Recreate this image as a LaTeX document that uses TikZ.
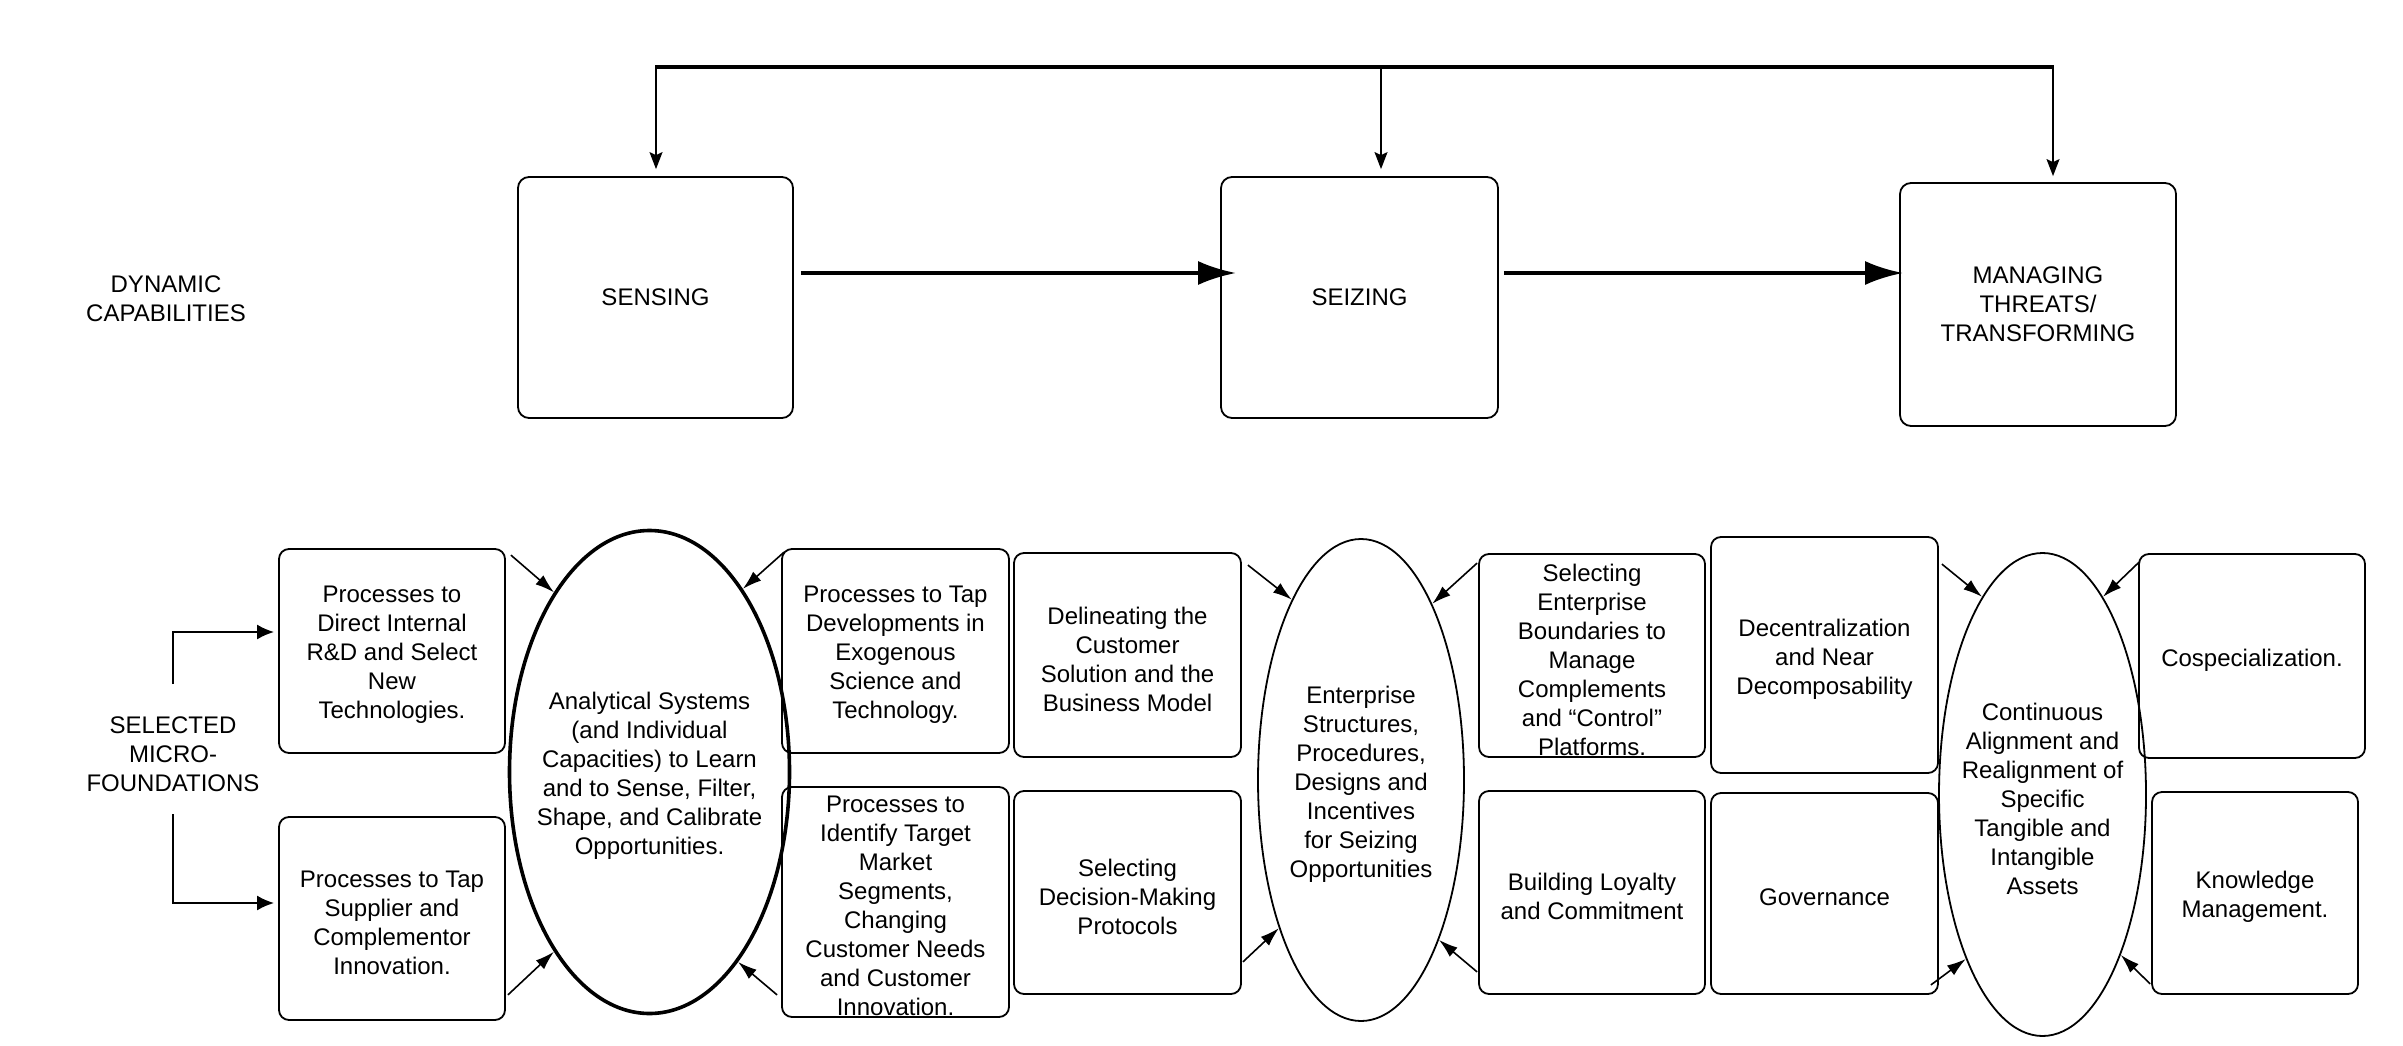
\documentclass[tikz,border=0pt]{standalone}
\usepackage{fontspec}
\setmainfont{Liberation Sans}
\usetikzlibrary{arrows.meta,shapes.geometric,calc}
\begin{document}
\begin{tikzpicture}[x=1pt,y=1pt,
  every node/.style={font=\fontsize{24}{29}\selectfont},
  txt/.style={align=center, inner sep=0pt},
  topbox/.style={draw, line width=1.8pt, rounded corners=11pt, align=center, inner sep=0pt},
  lbl/.style={align=center, inner sep=0pt, yshift=-4pt},
  box/.style={draw, line width=1.8pt, rounded corners=10pt, inner sep=0pt,
    label={[lbl]center:{#1}}},
  ell/.style={draw, ellipse, line width=1.8pt, inner sep=0pt,
    label={[lbl]center:{#1}}},
  bigarrow/.style={line width=4pt, -{Latex[length=38pt,width=24pt]}},
  toparrow/.style={line width=1.5pt, -{Stealth[length=17pt,width=13pt,inset=3pt]}},
  brk/.style={line width=2pt, -{Latex[length=17pt,width=15pt]}},
  small/.style={line width=1.6pt, -{Latex[length=19pt,width=12pt]}}
]
\useasboundingbox (0,0) rectangle (2403,-1046);

% ---- top row ----
\node[txt] (dyn) at (166,-298.5) {DYNAMIC\\CAPABILITIES};
\node[topbox, minimum width=275pt, minimum height=241pt] (sensing) at (655.5,-297.5) {SENSING};
\node[topbox, minimum width=277pt, minimum height=241pt] (seizing) at (1359.5,-297.5) {SEIZING};
\node[topbox, minimum width=276pt, minimum height=243pt] (managing) at (2038,-304.5) {MANAGING\\THREATS/\\TRANSFORMING};

\coordinate (t1) at (656,-67);
\coordinate (t2) at (1381,-67);
\coordinate (t3) at (2053,-67);
\draw[line width=3.5pt] ([xshift=-0.75pt]t1) -- ([xshift=0.75pt]t3);
\draw[toparrow] (t1) -- ($(t1 |- sensing.north)+(0,7)$);
\draw[toparrow] (t2) -- ($(t2 |- seizing.north)+(0,7)$);
\draw[toparrow] (t3) -- ($(t3 |- managing.north)+(0,6)$);

\draw[bigarrow] ([xshift=7pt,yshift=24.5pt]sensing.east) -- ([xshift=16pt,yshift=24.5pt]seizing.west);
\draw[bigarrow] ([xshift=5pt,yshift=24.5pt]seizing.east) -- ([xshift=4pt,yshift=31.5pt]managing.west);

% ---- bottom row ----
\node[txt] (selmf) at (173,-754) {SELECTED\\MICRO-\\FOUNDATIONS};

\node[box={Processes to\\Direct Internal\\R\&D and Select\\New\\Technologies.},
  minimum width=226pt, minimum height=204pt] (a) at (392,-651) {};
\node[box={Processes to Tap\\Supplier and\\Complementor\\Innovation.},
  minimum width=226pt, minimum height=203pt] (b) at (392,-918.5) {};

\node[ell={Analytical Systems\\(and Individual\\Capacities) to Learn\\and to Sense, Filter,\\Shape, and Calibrate\\Opportunities.},
  line width=3.6pt, minimum width=280pt, minimum height=483pt] (e1) at (649.5,-772) {};

\node[box={Processes to Tap\\Developments in\\Exogenous\\Science and\\Technology.},
  minimum width=227pt, minimum height=204pt] (c) at (895.5,-651) {};
\node[box={Processes to\\Identify Target\\Market\\Segments,\\Changing\\Customer Needs\\and Customer\\Innovation.},
  minimum width=227pt, minimum height=230pt] (d) at (895.5,-902) {};
\node[box={Delineating the\\Customer\\Solution and the\\Business Model},
  minimum width=227pt, minimum height=204pt] (e) at (1127.5,-655) {};
\node[box={Selecting\\Decision-Making\\Protocols},
  minimum width=227pt, minimum height=203pt] (f) at (1127.5,-892.5) {};

\node[ell={Enterprise\\Structures,\\Procedures,\\Designs and\\Incentives\\for Seizing\\Opportunities},
  minimum width=206pt, minimum height=482pt] (e2) at (1361,-780) {};

\node[box={Selecting\\Enterprise\\Boundaries to\\Manage\\Complements\\and “Control”\\Platforms.},
  minimum width=226pt, minimum height=203pt] (g) at (1592,-655.5) {};
\node[box={Building Loyalty\\and Commitment},
  minimum width=226pt, minimum height=203pt] (h) at (1592,-892.5) {};
\node[box={Decentralization\\and Near\\Decomposability},
  minimum width=227pt, minimum height=236pt] (i) at (1824.5,-655) {};
\node[box={Governance},
  minimum width=227pt, minimum height=201pt] (j) at (1824.5,-893.5) {};

\node[ell={Continuous\\Alignment and\\Realignment of\\Specific\\Tangible and\\Intangible\\Assets},
  minimum width=207pt, minimum height=483pt] (e3) at (2042.5,-794.5) {};

\node[box={Cospecialization.},
  minimum width=226pt, minimum height=204pt] (k) at (2252,-656) {};
\node[box={Knowledge\\Management.},
  minimum width=206pt, minimum height=202pt] (l) at (2255,-893) {};

% bracket arrows
\coordinate (s1) at (173,-684);
\coordinate (s2) at (173,-814);
\draw[brk] (s1) |- ([xshift=-4pt,yshift=19pt]a.west);
\draw[brk] (s2) |- ([xshift=-4pt,yshift=15.5pt]b.west);

% small arrows into ellipses
\draw[small] ([xshift=5pt,yshift=-7pt]a.north east) -- (e1.118);
\draw[small] ([xshift=2pt,yshift=26pt]b.south east) -- (e1.242);
\draw[small] ([xshift=3pt,yshift=-4pt]c.north west) -- (e1.63.5);
\draw[small] ([xshift=-4pt,yshift=23pt]d.south west) -- (e1.295);

\draw[small] ([xshift=6pt,yshift=-13pt]e.north east) -- (e2.111.4);
\draw[small] ([xshift=1pt,yshift=33pt]f.south east) -- (e2.241.5);
\draw[small] ([xshift=-1pt,yshift=-10pt]g.north west) -- (e2.68);
\draw[small] ([xshift=-1pt,yshift=23pt]h.south west) -- (e2.296);

\draw[small] ([xshift=3pt,yshift=-28pt]i.north east) -- (e3.107.2);
\draw[small] ([xshift=-8pt,yshift=10pt]j.south east) -- (e3.245.6);
\draw[small] ([xshift=1pt,yshift=-9pt]k.north west) -- (e3.73.6);
\draw[small] ([xshift=-1pt,yshift=11pt]l.south west) -- (e3.296.5);
\end{tikzpicture}
\end{document}
